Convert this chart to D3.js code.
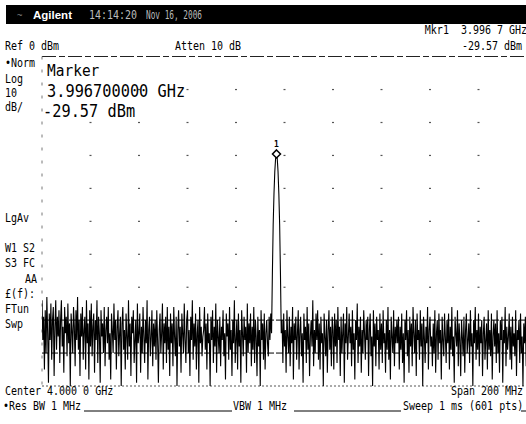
<!DOCTYPE html>
<html lang="en">
<head>
<meta charset="UTF-8">
<script src="https://d3js.org/d3.v7.min.js"></script>
<title>Spectrum</title>
<style>
  body { margin: 0; background: #fff; }
  text { white-space: pre; }
</style>
</head>
<body>
<div id="container"></div>
<script>
const width = 526, height = 424;

// analyzer settings
const centerGHz = 4.0, spanGHz = 0.2, points = 601;
const refLevel = 0, dbPerDiv = 10, divs = 10;
const markerF = 3.9967, markerLevel = -29.57;

// trace, 601 sweep points, values in -dBm
const traceText = `
74 86 79 95 77 90 73 84 99 78 86 75 92 80 76 97 82 74 89 79
85 77 93 80 74 88 82 96 76 84 79 91 75 87 81 100 78 83 90 76
82 94 77 86 73 89 80 97 78 85 76 92 83 79 95 74 87 81 98 77
88 75 91 82 78 96 80 86 74 93 79 84 99 77 85 81 90 76 94 83
79 87 76 92 84 98 78 83 90 75 86 80 95 82 77 91 84 79 100 81
76 89 83 95 78 85 92 74 88 81 97 79 84 77 93 86 80 99 75 87
84 78 96 82 90 76 85 93 80 87 74 98 83 79 91 85 77 94 81 88
80 92 77 86 99 83 78 90 84 75 95 81 87 79 93 76 89 82 97 78
87 81 94 76 85 91 79 100 83 77 88 82 96 78 84 90 75 86 93 80
77 90 83 97 79 86 74 92 81 88 78 95 84 80 99 76 87 82 91 85
83 76 89 81 95 78 87 84 100 79 86 77 93 82 88 75 96 80 85 90
79 94 82 86 77 91 84 98 78 85 81 92 76 89 83 97 80 87 74 93
86 80 95 78 88 83 99 77 84 91 79 86 82 96 75 90 81 87 78 94
82 89 76 93 80 85 97 79 88 83 100 77 86 81 92 78 95 84 80 87
91 79 86 78 84 66 51 41.6 34.9 30.9 29.57 30.9 34.9 41.6 51 66 84 80 93 78
88 83 96 77 85 90 79 94 82 87 76 98 81 86 79 92 84 77 95 83
79 91 84 99 78 86 82 93 76 89 81 97 85 80 88 74 94 83 90 78
86 77 92 81 95 79 87 84 100 78 85 91 80 96 83 77 89 82 94 79
83 95 78 88 80 93 76 86 82 97 79 90 84 78 99 81 87 76 92 85
78 87 82 94 77 89 84 98 80 86 75 93 82 88 79 96 83 90 77 84
92 80 86 79 97 83 78 91 85 100 77 88 81 94 79 86 83 95 78 89
81 93 77 87 84 96 80 89 76 92 83 98 79 85 90 77 94 82 87 80
87 79 95 82 89 78 93 84 99 80 86 77 91 83 96 79 88 81 94 76
84 90 80 97 78 86 83 92 77 88 81 100 79 85 93 82 87 76 95 83
79 88 85 94 81 90 77 96 84 80 92 78 87 83 98 79 86 91 78 85
93 80 87 78 95 82 89 76 91 85 99 79 84 88 77 94 81 86 97 80
85 91 79 96 83 78 90 86 81 93 77 88 84 100 80 87 76 92 83 89
78 94 82 87 80 97 84 79 92 86 81 95 77 89 83 91 78 98 85 80
88 81 93 77 90 84 96 80 86 79 99 83 87 76 94 82 89 85 78 92
82 95 79 88 84 91 77 97 83 86 80 93 78 90 85 100 81 87 79 94
84`;
const trace = traceText.trim().split(/\s+/).map(v => -Number(v));
const freqs = trace.map((d, i) => centerGHz - spanGHz / 2 + i * spanGHz / (points - 1));

// screen texts
const leftLabels = [
    ["\u2022Norm", 5, 67], ["Log", 5, 83], ["10", 5, 97], ["dB/", 5, 111],
    ["LgAv", 5, 222], ["W1 S2", 5, 252], ["S3 FC", 5, 267], ["AA", 25, 283],
    ["\u00a3(f):", 5, 298], ["FTun", 5, 313], ["Swp", 5, 328]
];

const svg = d3.select("#container")
    .append("svg")
    .attr("width", width)
    .attr("height", height);

const x = d3.scaleLinear()
    .domain([centerGHz - spanGHz / 2, centerGHz + spanGHz / 2])
    .range([42, 527]);
const y = d3.scaleLinear()
    .domain([refLevel, refLevel - dbPerDiv * divs])
    .range([56.5, 386]);

const mono = "DejaVu Sans Mono, Liberation Mono, monospace";

function label(g, str, tx, ty, size, anchor, fill, sy) {
    return g.append("text")
        .attr("transform", `translate(${tx},${ty}) scale(1,${sy || 1.25})`)
        .attr("font-family", mono)
        .attr("font-size", size)
        .attr("text-anchor", anchor || "start")
        .attr("fill", fill || "#000")
        .text(str);
}

// header bar
svg.append("rect")
    .attr("x", 6).attr("y", 5)
    .attr("width", width - 6).attr("height", 19)
    .attr("fill", "#000");
svg.append("text")
    .attr("x", 17).attr("y", 18)
    .attr("font-family", mono)
    .attr("font-size", 9)
    .attr("fill", "#888")
    .text("~");
svg.append("text")
    .attr("x", 33).attr("y", 19)
    .attr("font-family", "Liberation Sans, Arial, sans-serif")
    .attr("font-weight", "bold")
    .attr("font-size", 11.5)
    .attr("fill", "#fff")
    .text("Agilent");
label(svg, "14:14:20", 89, 18.5, 10, "start", "#bbb");
label(svg, "Nov 16, 2006", 146, 18.5, 10, "start", "#bbb")
    .attr("textLength", 56)
    .attr("lengthAdjust", "spacingAndGlyphs");

// top annotations
label(svg, "Mkr1  3.996 7 GHz", 527, 34, 10, "end");
label(svg, "Ref 0 dBm", 5, 50, 10);
label(svg, "Atten 10 dB", 175, 50, 10);
label(svg, "-29.57 dBm", 522, 50, 10, "end");

// left side labels
const lg = svg.append("g");
leftLabels.forEach(d => label(lg, d[0], d[1], d[2], 10));

// graticule
const xt = d3.range(0, divs + 1).map(i => x.domain()[0] + i * spanGHz / divs);
const yt = y.ticks(divs);
const grid = svg.append("g");
// intersection marks
const cross = [];
xt.slice(1).forEach(a => yt.filter(d => d < 0 && d > -80).forEach(b => cross.push([a, b])));
grid.selectAll("rect.dot")
    .data(cross)
    .enter()
    .append("rect")
    .attr("x", d => x(d[0]) - 1)
    .attr("y", d => y(d[1]) - 0.5)
    .attr("width", 2).attr("height", 1.2)
    .attr("fill", "#555");
// top border
grid.append("line")
    .attr("x1", x.range()[0]).attr("x2", width)
    .attr("y1", y(refLevel)).attr("y2", y(refLevel))
    .attr("stroke", "#222")
    .attr("stroke-dasharray", "14 3 6 3");
// left border
grid.append("line")
    .attr("x1", x.range()[0]).attr("x2", x.range()[0])
    .attr("y1", y(refLevel)).attr("y2", y(-100))
    .attr("stroke", "#777")
    .attr("stroke-dasharray", "3 10");
// lower lines
grid.selectAll("line.low")
    .data([-80, -90])
    .enter()
    .append("line")
    .attr("x1", x.range()[0]).attr("x2", width)
    .attr("y1", d => y(d)).attr("y2", d => y(d))
    .attr("stroke", "#000")
    .attr("stroke-dasharray", "7 2");
grid.append("line")
    .attr("x1", x.range()[0]).attr("x2", width)
    .attr("y1", y(-100)).attr("y2", y(-100))
    .attr("stroke", "#555")
    .attr("stroke-dasharray", "2 2");

// trace
svg.append("defs").append("clipPath")
    .attr("id", "clip")
    .append("rect")
    .attr("x", x.range()[0]).attr("y", y(refLevel))
    .attr("width", width - x.range()[0]).attr("height", y(-100) - y(refLevel) + 1);
const line = d3.line()
    .x((d, i) => x(freqs[i]))
    .y(d => y(d));
svg.append("path")
    .datum(trace)
    .attr("clip-path", "url(#clip)")
    .attr("d", line)
    .attr("fill", "none")
    .attr("stroke", "#000")
    .attr("stroke-width", 1.1);

// marker
const mx = x(markerF), my = y(markerLevel);
svg.append("path")
    .attr("d", `M${mx},${my - 4} L${mx + 4},${my} L${mx},${my + 4} L${mx - 4},${my} Z`)
    .attr("fill", "#fff")
    .attr("stroke", "#000")
    .attr("stroke-width", 1.5);
svg.append("text")
    .attr("x", mx).attr("y", my - 7)
    .attr("text-anchor", "middle")
    .attr("font-family", mono)
    .attr("font-weight", "bold")
    .attr("font-size", 8)
    .text("1");

// marker readout
label(svg, "Marker", 47, 76, 14.5, "start", "#000", 1.15);
label(svg, markerF.toFixed(9) + " GHz", 47, 97, 15.3, "start", "#000", 1.1);
label(svg, markerLevel.toFixed(2) + " dBm", 43, 117, 15.3, "start", "#000", 1.1);

// bottom annotations
label(svg, "Center 4.000 0 GHz", 5, 395, 10);
label(svg, "Span 200 MHz", 523, 395, 10, "end");
label(svg, "\u2022Res BW 1 MHz", 3, 410, 10);
label(svg, "VBW 1 MHz", 233, 410, 10);
label(svg, "Sweep 1 ms (601 pts)", 403, 410, 10);
svg.selectAll("line.under")
    .data([[84, 232], [294, 401], [521, 526]])
    .enter()
    .append("line")
    .attr("x1", d => d[0]).attr("x2", d => d[1])
    .attr("y1", 411).attr("y2", 411)
    .attr("stroke", "#000");
</script>
</body>
</html>
